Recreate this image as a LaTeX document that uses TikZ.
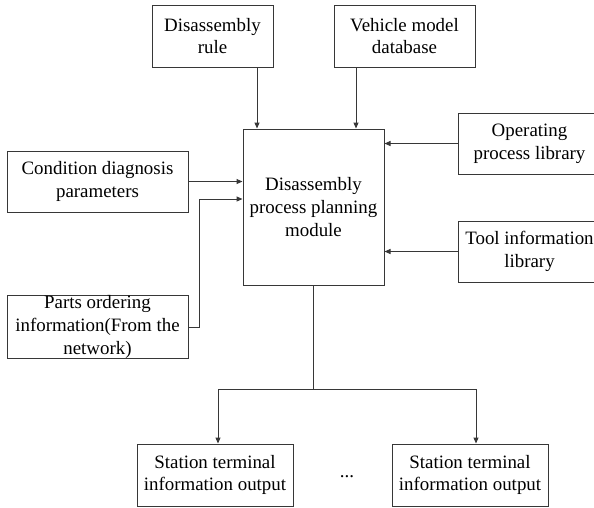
\documentclass[tikz,border=0pt]{standalone}
\usepackage{fontspec}
\setmainfont{Liberation Serif}
\usetikzlibrary{arrows.meta}
\definecolor{linegray}{RGB}{55,55,55}

\begin{document}
\begin{tikzpicture}[x=1pt,y=-1pt,>={Triangle[length=6pt,width=5pt]},
	block/.style={draw=linegray,line width=1pt,align=center,inner sep=0pt,
		font=\fontsize{18.9}{22.7}\selectfont},
	link/.style={->,draw=linegray,line width=1pt}]
	\clip (0,0) rectangle (594,507);
	\useasboundingbox (0,0) rectangle (594,507);
		% inputs around the planning module
		\node[block,minimum width=121pt,minimum height=62pt] (rule) at (212.5,36) {Disassembly\\rule};
		\node[block,minimum width=141pt,minimum height=62pt] (vehicle) at (404.5,36) {Vehicle model\\database};
		\node[block,minimum width=141pt,minimum height=156pt] (module) at (313.5,207) {Disassembly\\process planning\\module};
		\node[block,minimum width=181pt,minimum height=61pt] (cond) at (97.5,181.5) {Condition diagnosis\\parameters};
		\node[block,minimum width=181pt,minimum height=62pt] (parts) at (97.5,327) {Parts ordering\\information(From the\\network)};
		\node[block,minimum width=143pt,minimum height=61pt] (oper) at (529.5,143.5) {Operating\\process library};
		\node[block,minimum width=143pt,minimum height=61pt] (tool) at (529.5,251.5) {Tool information\\library};
		% outputs
		\node[block,minimum width=156pt,minimum height=62pt] (station1) at (215,475) {Station terminal\\information output};
		\node[block,minimum width=156pt,minimum height=62pt] (station2) at (470,475) {Station terminal\\information output};
		\node[font=\fontsize{18.9}{22.7}\selectfont,inner sep=0pt] (dots) at (347,477) {...};
		\draw[link] ([xshift=44.5pt]rule.south) -- ([xshift=44.5pt]rule.south |- module.north);
		\draw[link] ([xshift=-48.5pt]vehicle.south) -- ([xshift=-48.5pt]vehicle.south |- module.north);
		\draw[link] (cond.east) -- (cond.east -| module.west);
		\draw[link] (parts.east) -- ++(11,0) |- ([yshift=8pt]module.west);
		\draw[link] (oper.west) -- (oper.west -| module.east);
		\draw[link] (tool.west) -- (tool.west -| module.east);
		\draw[linegray,line width=1pt] (module.south) -- ++(0,104) coordinate (split);
		\draw[link] (split) -| ([xshift=3pt]station1.north);
		\draw[link] (split) -| ([xshift=6pt]station2.north);
	\end{tikzpicture}
\end{document}
